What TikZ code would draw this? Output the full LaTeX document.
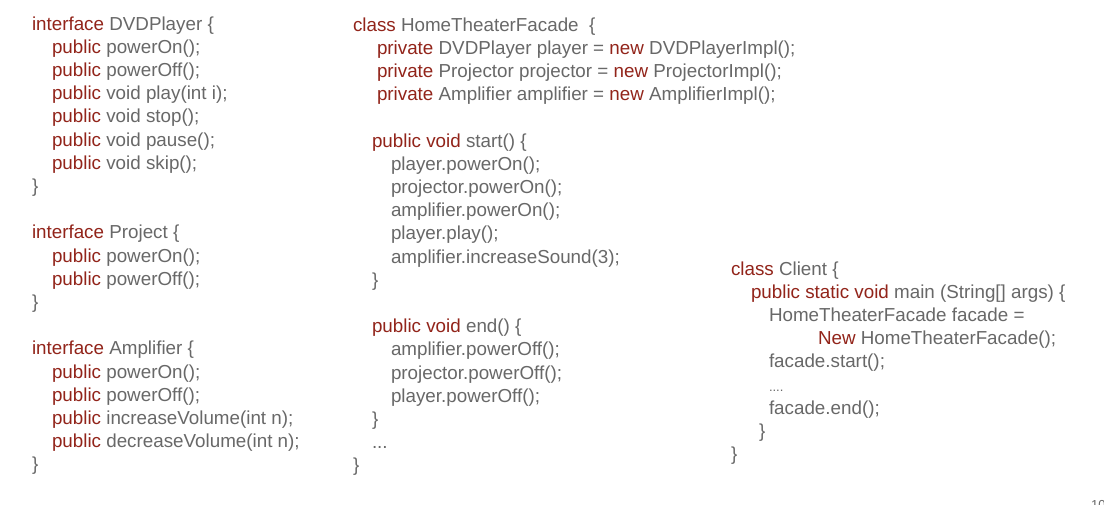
\documentclass[tikz,border=0pt]{standalone}
\usepackage{fontspec}
\setmainfont{Liberation Sans}
\definecolor{kw}{RGB}{146,36,26}
\definecolor{tx}{RGB}{104,104,104}
\newcommand{\kw}[1]{\textcolor{kw}{#1}}
\tikzset{
  code/.style={anchor=base west, inner sep=0pt, outer sep=0pt, text=tx,
    font=\fontsize{18.8}{22}\selectfont},
  pagenum/.style={anchor=base west, inner sep=0pt, text=tx,
    font=\fontsize{13}{15}\selectfont}
}
\begin{document}
\begin{tikzpicture}[x=1pt,y=-1pt]
\useasboundingbox (0,0) rectangle (1104,504);
\fill[white] (0,0) rectangle (1104,504);
% left column
\node[code] (l1)  at (32,30)    {\kw{interface} DVDPlayer \{};
\node[code] (l2)  at (52,53.2)  {\kw{public} powerOn();};
\node[code] (l3)  at (52,76.4)  {\kw{public} powerOff();};
\node[code] (l4)  at (52,99.6)  {\kw{public} void play(int i);};
\node[code] (l5)  at (52,122.8) {\kw{public} void stop();};
\node[code] (l6)  at (52,146)   {\kw{public} void pause();};
\node[code] (l7)  at (52,169.2) {\kw{public} void skip();};
\node[code] (l8)  at (32,192.4) {\}};
\node[code] (l9)  at (32,238.8) {\kw{interface} Project \{};
\node[code] (l10) at (52,262)   {\kw{public} powerOn();};
\node[code] (l11) at (52,285.2) {\kw{public} powerOff();};
\node[code] (l12) at (32,308.4) {\}};
\node[code] (l13) at (32,354.8) {\kw{interface} Amplifier \{};
\node[code] (l14) at (52,378)   {\kw{public} powerOn();};
\node[code] (l15) at (52,401.2) {\kw{public} powerOff();};
\node[code] (l16) at (52,424.4) {\kw{public} increaseVolume(int n);};
\node[code] (l17) at (52,447.6) {\kw{public} decreaseVolume(int n);};
\node[code] (l18) at (32,470.8) {\}};
% middle column
\node[code] (m1)  at (353,31)    {\kw{class} HomeTheaterFacade~~\{};
\node[code] (m2)  at (377,54.2)  {\kw{private} DVDPlayer player = \kw{new} DVDPlayerImpl();};
\node[code] (m3)  at (377,77.4)  {\kw{private} Projector projector = \kw{new} ProjectorImpl();};
\node[code] (m4)  at (377,100.6) {\kw{private} Amplifier amplifier = \kw{new} AmplifierImpl();};
\node[code] (m5)  at (372,147)   {\kw{public void} start() \{};
\node[code] (m6)  at (391,170.2) {player.powerOn();};
\node[code] (m7)  at (391,193.4) {projector.powerOn();};
\node[code] (m8)  at (391,216.6) {amplifier.powerOn();};
\node[code] (m9)  at (391,239.8) {player.play();};
\node[code] (m10) at (391,263)   {amplifier.increaseSound(3);};
\node[code] (m11) at (372,286.2) {\}};
\node[code] (m12) at (372,332.6) {\kw{public void} end() \{};
\node[code] (m13) at (391,355.8) {amplifier.powerOff();};
\node[code] (m14) at (391,379)   {projector.powerOff();};
\node[code] (m15) at (391,402.2) {player.powerOff();};
\node[code] (m16) at (372,425.4) {\}};
\node[code] (m17) at (372,448.6) {...};
\node[code] (m18) at (353,471.8) {\}};
% right column
\node[code] (r1) at (731,275)   {\kw{class} Client \{};
\node[code] (r2) at (751,298.2) {\kw{public static void} main (String[] args) \{};
\node[code] (r3) at (769,321.4) {HomeTheaterFacade facade =};
\node[code] (r4) at (818,344.6) {\kw{New} HomeTheaterFacade();};
\node[code] (r5) at (769,367.8) {facade.start();};
\node[code, font=\fontsize{13}{15}\selectfont] (r6) at (769,391) {....};
\node[code] (r7) at (769,414.2) {facade.end();};
\node[code] (r8) at (759,437.4) {\}};
\node[code] (r9) at (731,460.6) {\}};
% page number fragment (cut by the lower edge)
\node[pagenum] (pg) at (1091,509.5) {10};
\end{tikzpicture}
\end{document}
